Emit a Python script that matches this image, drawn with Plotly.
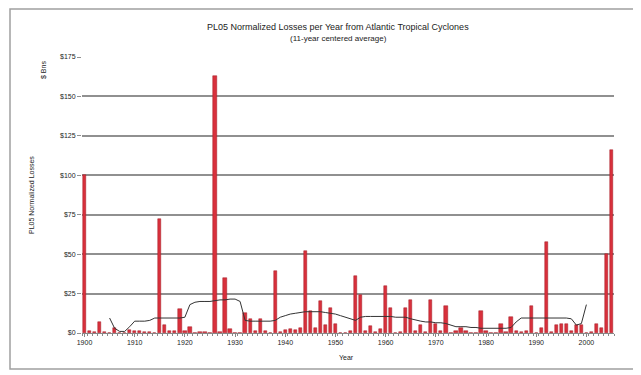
import plotly.graph_objects as go

years = list(range(1900, 2006))
losses = [
    100, 1, 0.5, 7, 0.5, 0.3, 3, 0, 0.2, 2,          # 1900-1909
    1.5, 1, 0.5, 0.5, 0, 72, 5, 1.5, 1, 15,          # 1910-1919
    1, 4, 0, 0.5, 0.5, 0.3, 163, 0.5, 35, 2.5,       # 1920-1929
    0.2, 0.3, 13, 9, 1.5, 9, 1, 0.3, 39, 0.5,        # 1930-1939
    2, 2.5, 2, 3, 52, 14, 3, 20, 5, 16,              # 1940-1949
    6, 0.3, 0.3, 1, 36, 24, 1, 4.5, 0.5, 2.5,        # 1950-1959
    30, 16, 0.2, 0.5, 16, 21, 1, 5, 0.5, 21,         # 1960-1969
    6, 1, 17, 0.3, 1.5, 3, 1, 0.2, 0.2, 14,          # 1970-1979
    1.5, 0.3, 0.3, 6, 0.5, 10, 1.5, 0.5, 1, 17,      # 1980-1989
    0.2, 3, 58, 0.5, 5, 6, 6, 1, 5, 5,               # 1990-1999
    0.2, 0.5, 6, 3, 50, 116,                         # 2000-2005
]

avg_years = list(range(1905, 2001))
avg_values = [
    9.5, 3, 1, 1, 4,                                  # 1905-1909
    7.5, 7.5, 7.5, 8, 9.5, 9.5, 9.5, 9.5, 9.5, 9.5,  # 1910-1919
    10, 18, 19.5, 20, 20, 20, 20.5, 21, 21, 21.5,    # 1920-1929
    21.5, 20, 8, 7.5, 7.5, 7.5, 7.5, 7.5, 8, 10,     # 1930-1939
    11, 12, 12.5, 13, 13.5, 13.5, 13.5, 13.5, 13, 12.5,  # 1940-1949
    12, 11, 10, 9, 8, 10, 10.5, 10.5, 10.5, 10.5,    # 1950-1959
    10.5, 10.5, 10, 10, 10, 9, 8, 7.5, 7, 7,         # 1960-1969
    6.5, 6.5, 6, 5, 4, 4, 4, 3.5, 3.5, 3,            # 1970-1979
    3, 3, 3, 3, 3, 3.5, 7, 9.5, 9.5, 9.5,            # 1980-1989
    9.5, 9.5, 9.5, 9.5, 9.5, 9.5, 9.5, 9, 5, 6,      # 1990-1999
    18,                                               # 2000
]

x_ticks = list(range(1900, 2001, 10))
y_ticks = [0, 25, 50, 75, 100, 125, 150, 175]
y_tick_labels = ["$0", "$25", "$50", "$75", "$100", "$125", "$150", "$175"]

FONT = "Liberation Sans, Arial, sans-serif"
OFF = 8  # page body margin offset
W, H = 633, 367
L, T = 82 - OFF, 57 - OFF
R = W - (614 - OFF)
B = H - (333 - OFF)
pw, ph = W - L - R, H - T - B

def px(x):
    return (x - OFF - L) / pw

def py(y):
    return (H - B - (y - OFF)) / ph

fig = go.Figure()
fig.add_trace(go.Bar(
    x=years, y=losses, width=0.65,
    marker=dict(color="#d8303c", line=dict(color="#a01820", width=0.5)),
    showlegend=False,
))
fig.add_trace(go.Scatter(
    x=avg_years, y=avg_values, mode="lines",
    line=dict(color="#333333", width=1),
    showlegend=False,
))

fig.update_layout(
    width=W, height=H,
    margin=dict(l=L, r=R, t=T, b=B),
    paper_bgcolor="white", plot_bgcolor="white",
    font=dict(family=FONT, color="#222222"),
    bargap=0,
    xaxis=dict(
        range=[1899.5, 2005.5], tickvals=x_ticks,
        ticktext=[str(v) for v in x_ticks],
        tickfont=dict(size=7), ticks="outside", ticklen=3, tickcolor="#888",
        showline=True, linecolor="#888", linewidth=1,
        showgrid=False, zeroline=False,
        minor=dict(dtick=1, tick0=1899.5, ticks="outside", ticklen=2, tickcolor="#888"),
    ),
    yaxis=dict(
        range=[0, 175], tickvals=y_ticks, ticktext=y_tick_labels,
        tickfont=dict(size=7), ticks="outside", ticklen=4, tickcolor="#909090",
        showgrid=True, gridcolor="#909090", gridwidth=1.5,
        zeroline=False, showline=False,
    ),
    shapes=[dict(type="rect", xref="paper", yref="paper",
                 x0=px(10), x1=px(638), y0=py(369), y1=py(9),
                 line=dict(color="#a0a0a0", width=1.5), layer="below")],
    annotations=[
        dict(text="PL05 Normalized Losses per Year from Atlantic Tropical Cyclones",
             xref="paper", yref="paper", x=px(338), y=py(27), showarrow=False,
             font=dict(size=9, family=FONT), xanchor="center", yanchor="middle"),
        dict(text="(11-year centered average)",
             xref="paper", yref="paper", x=px(338), y=py(39), showarrow=False,
             font=dict(size=8, family=FONT), xanchor="center", yanchor="middle"),
        dict(text="PL05 Normalized Losses", textangle=-90,
             xref="paper", yref="paper", x=px(31), y=py(195), showarrow=False,
             font=dict(size=7, family=FONT), xanchor="center", yanchor="middle"),
        dict(text="$ Bns", textangle=-90,
             xref="paper", yref="paper", x=px(43), y=py(70), showarrow=False,
             font=dict(size=7, family=FONT), xanchor="center", yanchor="middle"),
        dict(text="Year",
             xref="paper", yref="paper", x=px(346), y=py(357), showarrow=False,
             font=dict(size=7, family=FONT), xanchor="center", yanchor="middle"),
    ],
)

fig.write_html("out.html")
